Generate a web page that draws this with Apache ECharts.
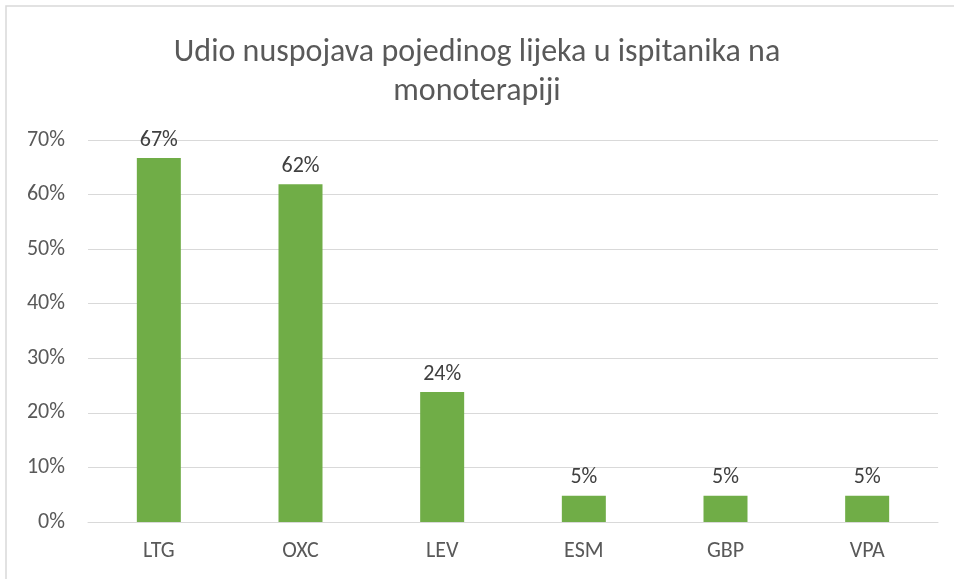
<!DOCTYPE html>
<html>
<head>
<meta charset="utf-8">
<script src="https://cdn.jsdelivr.net/npm/echarts@6/dist/echarts.min.js"></script>
<style>
html,body{margin:0;padding:0;background:#fff;}
#chart{width:954px;height:579px;}
</style>
</head>
<body>
<div id="chart"></div>
<script>
// podaci
var categories = ['LTG', 'OXC', 'LEV', 'ESM', 'GBP', 'VPA'];
var values = [66.7, 61.9, 23.8, 4.8, 4.8, 4.8];
var titleText = 'Udio nuspojava pojedinog lijeka u ispitanika na\nmonoterapiji';

var fontFam = 'Carlito, "Liberation Sans Narrow", "Open Sans", sans-serif';
var textColor = '#595959';

var myChart = echarts.init(document.getElementById('chart'));
var option = {
    backgroundColor: '#fff',
    animation: false,
    title: {
        text: titleText,
        left: 'center',
        top: 28,
        textStyle: {
            color: textColor,
            fontFamily: fontFam,
            fontWeight: 'normal',
            fontSize: 32,
            lineHeight: 39
        }
    },
    graphic: [{
        type: 'rect',
        shape: {x: 6, y: 6, width: 960, height: 600},
        style: {fill: 'none', stroke: '#d9d9d9', lineWidth: 1.5},
        silent: true
    }],
    grid: {left: 88, right: 16, top: 140, bottom: 57},
    xAxis: {
        type: 'category',
        data: categories,
        axisLine: {lineStyle: {color: '#d9d9d9', width: 1}},
        axisTick: {show: false},
        axisLabel: {color: textColor, fontFamily: fontFam, fontSize: 22, margin: 18}
    },
    yAxis: {
        type: 'value',
        min: 0,
        max: 70,
        interval: 10,
        axisLine: {show: false},
        axisTick: {show: false},
        splitLine: {lineStyle: {color: '#d9d9d9', width: 1}},
        axisLabel: {
            color: textColor, fontFamily: fontFam, fontSize: 22, margin: 23,
            formatter: function (v) { return v + '%'; }
        }
    },
    series: [{
        type: 'bar',
        data: values,
        barWidth: 44,
        itemStyle: {color: '#70ad47'},
        label: {
            show: true,
            position: 'top',
            distance: 7,
            color: '#404040',
            fontFamily: fontFam,
            fontSize: 22,
            formatter: function (p) { return Math.round(p.value) + '%'; }
        }
    }]
};
myChart.setOption(option);
</script>
</body>
</html>
